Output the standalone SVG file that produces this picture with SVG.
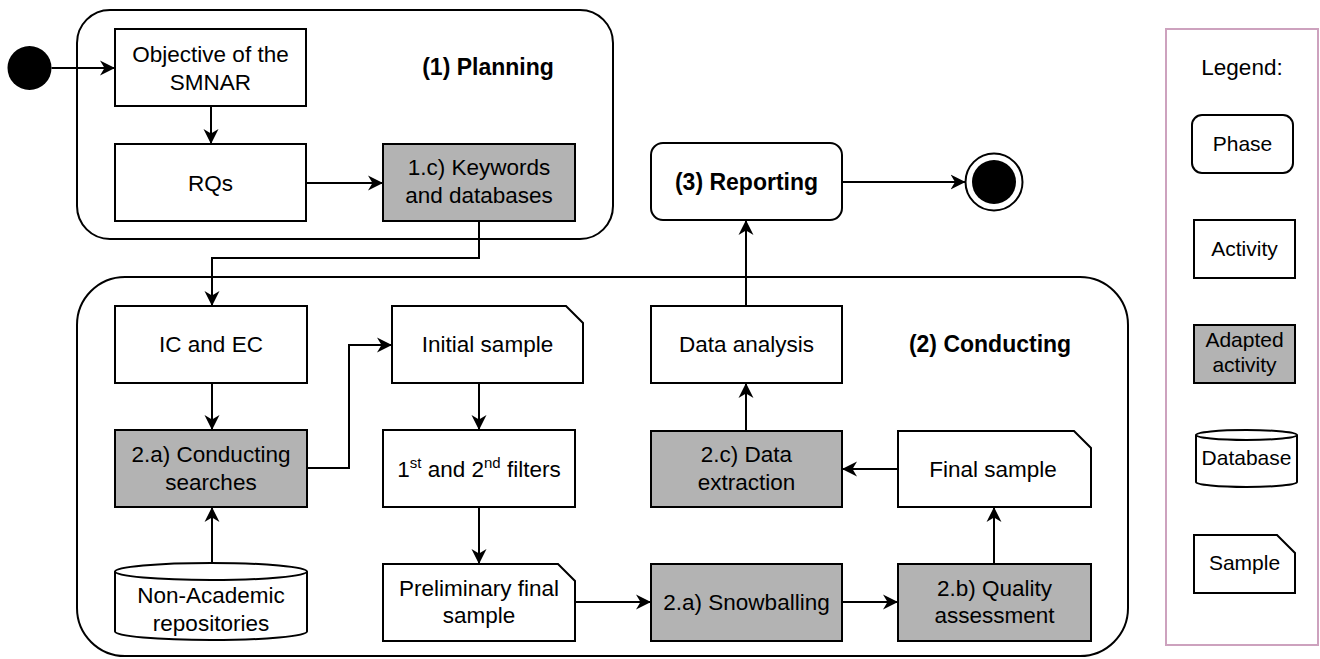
<svg xmlns="http://www.w3.org/2000/svg" width="1320" height="659" viewBox="0 0 1320 659">
<defs>
<style>
.t{font-family:"Liberation Sans",Arial,sans-serif;font-size:22.5px;fill:#000;text-anchor:middle}
.b{font-weight:bold;font-size:23px}
.lg{font-size:21px}
.box{fill:#fff;stroke:#000;stroke-width:2}
.gray{fill:#b3b3b3;stroke:#000;stroke-width:2}
.phase{fill:#fff;stroke:#000;stroke-width:2}
.edge{fill:none;stroke:#000;stroke-width:2;marker-end:url(#arr)}
</style>
<marker id="arr" viewBox="0 0 16 16" refX="15" refY="8" markerWidth="16" markerHeight="16" markerUnits="userSpaceOnUse" orient="auto">
<path d="M0,0.5 L15,8 L0,15.5 L4.5,8 Z" fill="#000"/>
</marker>
</defs>

<g id="planning">
<rect class="phase" x="77" y="10" width="536" height="229" rx="33"/>
<text class="t b" x="488" y="75">(1) Planning</text>
</g>
<g id="conducting">
<rect class="phase" x="77" y="277" width="1051" height="379" rx="48"/>
<text class="t b" x="990" y="352">(2) Conducting</text>
</g>

<g id="start"><circle cx="29.5" cy="68" r="22" fill="#000"/></g>
<g id="end">
<circle cx="994" cy="182" r="28.5" fill="#fff" stroke="#000" stroke-width="2"/>
<circle cx="994" cy="182" r="22" fill="#000"/>
</g>

<g id="objective"><rect class="box" x="115" y="29" width="191" height="77"/>
<text class="t" x="210.5" y="62">Objective of the</text><text class="t" x="210.5" y="89.5">SMNAR</text></g>
<g id="rqs"><rect class="box" x="115" y="144" width="191" height="77"/>
<text class="t" x="210.5" y="191">RQs</text></g>
<g id="keywords"><rect class="gray" x="383" y="144" width="192" height="77"/>
<text class="t" x="479" y="175">1.c) Keywords</text><text class="t" x="479" y="203">and databases</text></g>

<g id="reporting"><rect class="phase" x="651" y="143" width="191" height="77" rx="12"/>
<text class="t b" x="746.5" y="190">(3) Reporting</text></g>

<g id="icec"><rect class="box" x="115" y="306" width="192" height="77"/>
<text class="t" x="211" y="352">IC and EC</text></g>
<g id="searches"><rect class="gray" x="115" y="430" width="192" height="77"/>
<text class="t" x="211" y="462">2.a) Conducting</text><text class="t" x="211" y="490">searches</text></g>
<g id="nonacademic">
<path class="box" d="M115,571.5 L115,631.5 A96,8.5 0 0 0 307,631.5 L307,571.5 A96,8.5 0 0 0 115,571.5 Z"/>
<path d="M115,571.5 A96,8.5 0 0 0 307,571.5" fill="none" stroke="#000" stroke-width="2"/>
<text class="t" x="211" y="603">Non-Academic</text><text class="t" x="211" y="631">repositories</text></g>

<g id="initial"><path class="box" d="M392,306 L566,306 L583,323 L583,383 L392,383 Z"/>
<text class="t" x="487.5" y="352">Initial sample</text></g>
<g id="filters"><rect class="box" x="383" y="430" width="192" height="77"/>
<text class="t" x="479" y="477">1<tspan dy="-9" font-size="15">st</tspan><tspan dy="9"> and 2</tspan><tspan dy="-9" font-size="15">nd</tspan><tspan dy="9"> filters</tspan></text></g>
<g id="prelim"><path class="box" d="M383,564 L558,564 L575,581 L575,641 L383,641 Z"/>
<text class="t" x="479" y="596">Preliminary final</text><text class="t" x="479" y="623">sample</text></g>

<g id="analysis"><rect class="box" x="651" y="306" width="191" height="77"/>
<text class="t" x="746.5" y="352">Data analysis</text></g>
<g id="extraction"><rect class="gray" x="651" y="431" width="191" height="76"/>
<text class="t" x="746.5" y="462">2.c) Data</text><text class="t" x="746.5" y="490">extraction</text></g>
<g id="snowballing"><rect class="gray" x="651" y="564" width="191" height="77"/>
<text class="t" x="746.5" y="610">2.a) Snowballing</text></g>
<g id="final"><path class="box" d="M898,431 L1074,431 L1091,448 L1091,507 L898,507 Z"/>
<text class="t" x="993" y="477">Final sample</text></g>
<g id="quality"><rect class="gray" x="898" y="564" width="193" height="77"/>
<text class="t" x="994.5" y="596">2.b) Quality</text><text class="t" x="994.5" y="623">assessment</text></g>

<g id="connectors">
<path class="edge" d="M51.5,68 L115,68"/>
<path class="edge" d="M211,106 L211,144"/>
<path class="edge" d="M306,183 L383,183"/>
<path class="edge" d="M479,221 L479,258 L212,258 L212,306"/>
<path class="edge" d="M212,383 L212,430"/>
<path class="edge" d="M212,563 L212,507"/>
<path class="edge" d="M307,468 L349,468 L349,345 L392,345"/>
<path class="edge" d="M479,383 L479,430"/>
<path class="edge" d="M479,507 L479,564"/>
<path class="edge" d="M575,602 L651,602"/>
<path class="edge" d="M842,602 L898,602"/>
<path class="edge" d="M994,564 L994,507"/>
<path class="edge" d="M898,469 L842,469"/>
<path class="edge" d="M746,431 L746,383"/>
<path class="edge" d="M746,306 L746,220"/>
<path class="edge" d="M842,182 L965.5,182"/>
</g>

<g id="legend">
<rect x="1166" y="29" width="152" height="616" fill="#fff" stroke="#cda2be" stroke-width="2"/>
<text class="t" x="1242" y="75" font-size="18.5">Legend:</text>
<rect class="phase" x="1192" y="115" width="101" height="58" rx="10"/>
<text class="t lg" x="1242.5" y="151">Phase</text>
<rect class="box" x="1194" y="220" width="101" height="58"/>
<text class="t lg" x="1244.5" y="256">Activity</text>
<rect class="gray" x="1194" y="325" width="101" height="58"/>
<text class="t lg" x="1244.5" y="347">Adapted</text><text class="t lg" x="1244.5" y="372">activity</text>
<path class="box" d="M1196,435 L1196,482 A50.5,5 0 0 0 1297,482 L1297,435 A50.5,5 0 0 0 1196,435 Z"/>
<path d="M1196,435 A50.5,5 0 0 0 1297,435" fill="none" stroke="#000" stroke-width="2"/>
<text class="t lg" x="1246.5" y="465">Database</text>
<path class="box" d="M1194,535 L1277,535 L1295,553 L1295,593 L1194,593 Z"/>
<text class="t lg" x="1244.5" y="570">Sample</text>
</g>
</svg>
